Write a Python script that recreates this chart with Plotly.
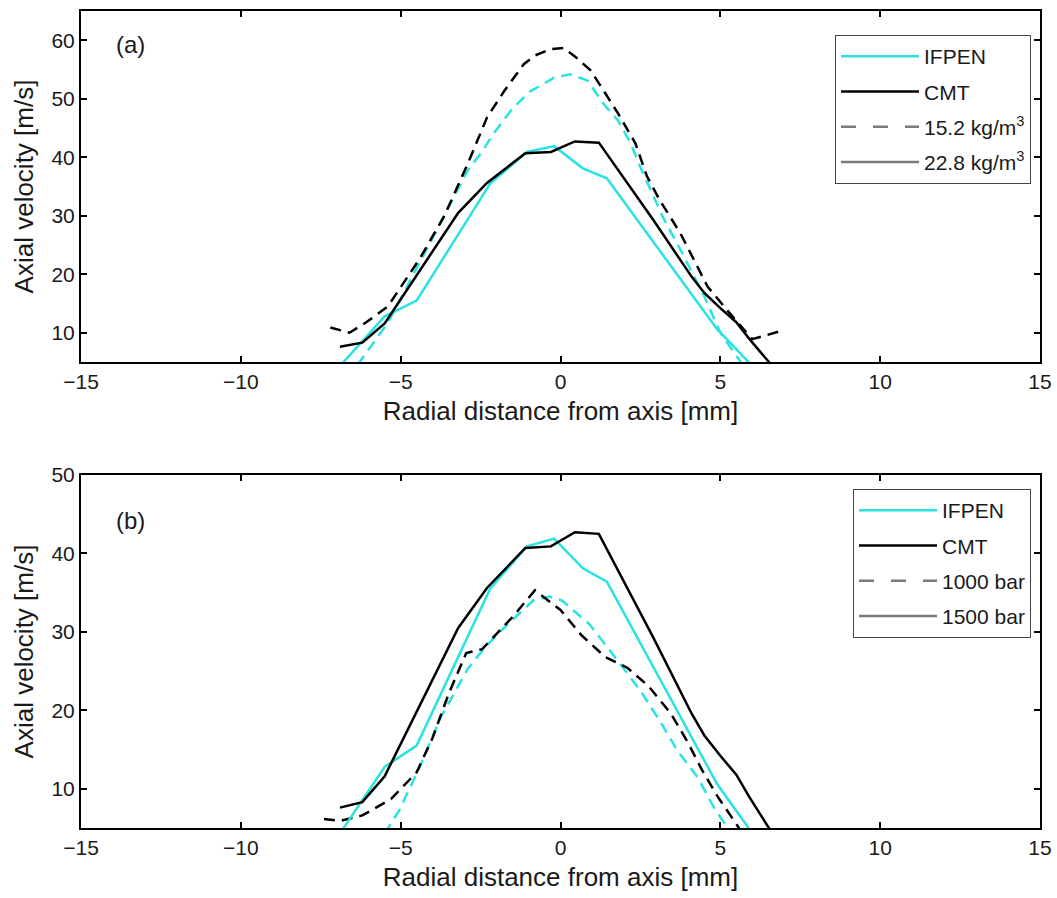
import plotly.graph_objects as go
from plotly.subplots import make_subplots

# ---------------- data ----------------
# Reference case (solid lines, shared by both panels)
ifpen_ref_x = [-6.9, -5.5, -4.5, -2.2, -1.05, -0.2, 0.7, 1.45, 4.9, 5.9]
ifpen_ref_y = [4.3, 12.8, 15.5, 35.5, 40.9, 41.9, 38.1, 36.4, 10.6, 4.9]

cmt_ref_x = [-6.9, -6.2, -5.5, -3.2, -2.3, -1.1, -0.3, 0.45, 1.2, 2.9, 4.1, 4.5, 5.0, 5.5, 5.9, 6.55]
cmt_ref_y = [7.6, 8.3, 11.6, 30.5, 35.6, 40.7, 40.9, 42.7, 42.5, 29.3, 19.6, 16.8, 14.2, 11.8, 9.0, 4.8]

# Panel (a): 15.2 kg/m3 (dashed)
ifpen_a_x = [-6.35, -5.4, -4.3, -2.9, -2.5, -2.1, -1.55, -1.0, -0.2, 0.3, 0.85, 1.35, 1.8, 2.2, 2.5, 3.2, 3.75, 4.5, 5.0, 5.45, 5.7]
ifpen_a_y = [4.5, 11.7, 23.1, 37.8, 40.6, 44.0, 48.0, 51.1, 53.6, 54.2, 53.1, 49.1, 46.3, 42.3, 38.3, 29.8, 24.2, 16.2, 10.0, 6.6, 4.5]

cmt_a_x = [-7.2, -6.6, -6.1, -5.4, -4.4, -3.65, -2.9, -2.3, -1.75, -1.15, -0.8, -0.3, 0.1, 0.5, 0.95, 1.35, 1.8, 2.35, 2.7, 3.1, 3.75, 4.6, 5.3, 6.0, 6.9]
cmt_a_y = [10.9, 10.0, 11.7, 14.5, 22.7, 29.8, 38.9, 46.8, 51.4, 55.9, 57.4, 58.5, 58.7, 57.0, 54.8, 51.4, 47.5, 42.3, 36.8, 32.7, 27.0, 17.9, 13.3, 8.9, 10.3]

# Panel (b): 1000 bar (dashed)
ifpen_b_x = [-5.5, -5.05, -4.4, -3.75, -2.9, -2.35, -1.65, -0.85, -0.35, 0.05, 0.5, 0.9, 1.55, 2.05, 2.5, 3.1, 3.65, 4.3, 4.8, 5.35]
ifpen_b_y = [4.3, 7.2, 12.8, 19.1, 25.3, 28.1, 31.0, 34.0, 34.5, 34.0, 32.4, 31.0, 27.6, 24.9, 22.5, 18.7, 14.9, 11.4, 7.6, 4.3]

cmt_b_x = [-7.4, -6.9, -6.2, -5.3, -4.5, -4.0, -3.5, -2.95, -2.45, -1.5, -0.8, 0.0, 0.65, 1.4, 2.1, 2.75, 3.45, 4.0, 4.4, 4.9, 5.6]
cmt_b_y = [6.15, 5.9, 6.6, 8.7, 12.1, 16.5, 22.1, 27.3, 27.8, 31.9, 35.3, 32.8, 29.6, 26.8, 25.4, 23.1, 19.6, 15.8, 12.6, 9.1, 4.9]

x_ticks = [-15, -10, -5, 0, 5, 10, 15]
y_ticks_a = [10, 20, 30, 40, 50, 60]
y_ticks_b = [10, 20, 30, 40, 50]

legend_a = ["IFPEN", "CMT", "15.2 kg/m<sup>3</sup>", "22.8 kg/m<sup>3</sup>"]
legend_b = ["IFPEN", "CMT", "1000 bar", "1500 bar"]

# ---------------- style ----------------
CYAN = "#2ae2e2"
BLACK = "#000000"
GRAY = "#7a7a7a"
LW = 2.5
DASH = "11px,7px"
FONT = "Liberation Sans, Arial, Helvetica, sans-serif"
TXT = "#1a1a1a"

fig = make_subplots(rows=2, cols=1, vertical_spacing=0.0)

def add_panel(row, ix_d, iy_d, cx_d, cy_d, labels, legend_name):
    # dashed cases
    fig.add_trace(go.Scatter(x=ix_d, y=iy_d, mode="lines", showlegend=False,
                             line=dict(color=CYAN, width=LW, dash=DASH)), row=row, col=1)
    fig.add_trace(go.Scatter(x=cx_d, y=cy_d, mode="lines", showlegend=False,
                             line=dict(color=BLACK, width=LW, dash=DASH)), row=row, col=1)
    # reference (solid)
    fig.add_trace(go.Scatter(x=ifpen_ref_x, y=ifpen_ref_y, mode="lines", showlegend=False,
                             line=dict(color=CYAN, width=LW)), row=row, col=1)
    fig.add_trace(go.Scatter(x=cmt_ref_x, y=cmt_ref_y, mode="lines", showlegend=False,
                             line=dict(color=BLACK, width=LW)), row=row, col=1)
    # legend entries
    styles = [dict(color=CYAN, width=LW), dict(color=BLACK, width=LW),
              dict(color=GRAY, width=LW, dash="15px,17px"), dict(color=GRAY, width=LW)]
    for i, (lab, st) in enumerate(zip(labels, styles)):
        fig.add_trace(go.Scatter(x=[None], y=[None], mode="lines", name=lab, line=st,
                                 legend=legend_name, legendgroup=f"{legend_name}_{i}",
                                 showlegend=True), row=row, col=1)

add_panel(1, ifpen_a_x, ifpen_a_y, cmt_a_x, cmt_a_y, legend_a, "legend")
add_panel(2, ifpen_b_x, ifpen_b_y, cmt_b_x, cmt_b_y, legend_b, "legend2")

axis_common = dict(showline=True, linecolor="black", linewidth=2, mirror="ticks",
                   ticks="inside", ticklen=6, tickwidth=2, tickcolor="black",
                   showgrid=False, zeroline=False, automargin=False,
                   tickfont=dict(family=FONT, size=21, color=TXT))

xtitle = dict(text="Radial distance from axis [mm]", font=dict(size=26, family=FONT, color=TXT), standoff=10)
ytitle = dict(text="Axial velocity [m/s]", font=dict(size=26, family=FONT, color=TXT), standoff=10)

L, R = 81, 17
W = 1057 - L - R
H = 898 - 11 - 70
leg_common = dict(bgcolor="white", bordercolor="#444", borderwidth=1,
                  font=dict(family=FONT, size=21, color=TXT), tracegroupgap=5,
                  itemwidth=78, xanchor="right", yanchor="top", x=(1031 - L) / W)
fig.update_layout(
    width=1057, height=898,
    margin=dict(l=L, r=R, t=11, b=70),
    plot_bgcolor="white", paper_bgcolor="white",
    font=dict(family=FONT, color=TXT),
    xaxis=dict(domain=[0, 1], range=[-15, 15], tickvals=x_ticks, **axis_common, title=xtitle),
    xaxis2=dict(domain=[0, 1], range=[-15, 15], tickvals=x_ticks, **axis_common, title=xtitle),
    yaxis=dict(domain=[(828 - 362) / H, 1], range=[5, 65], tickvals=y_ticks_a, **axis_common, title=ytitle),
    yaxis2=dict(domain=[0, (828 - 475) / H], range=[5, 50], tickvals=y_ticks_b, **axis_common, title=ytitle),
    legend=dict(y=(828 - 35) / H, **leg_common),
    legend2=dict(y=(828 - 489) / H, **leg_common),
    annotations=[
        dict(text="(a)", x=-13.45, y=59.3, xref="x", yref="y", showarrow=False,
             font=dict(family=FONT, size=24, color=TXT)),
        dict(text="(b)", x=-13.45, y=44.2, xref="x2", yref="y2", showarrow=False,
             font=dict(family=FONT, size=24, color=TXT)),
    ],
)

fig.write_html("out.html")
